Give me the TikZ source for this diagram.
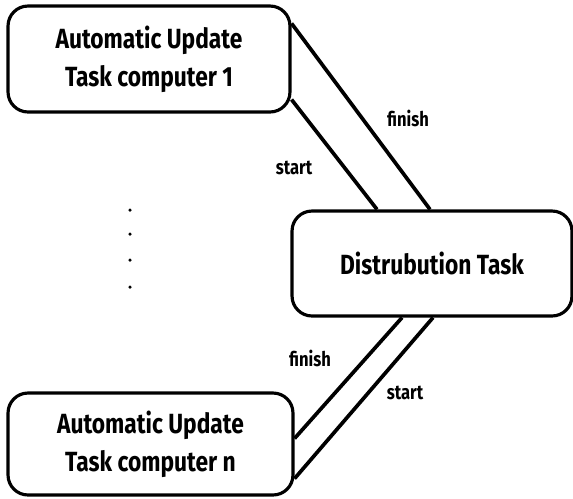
\documentclass[tikz,border=0pt]{standalone}
\usepackage{fontspec}
\setmainfont{Fira Sans}[FakeStretch=0.82]
\usetikzlibrary{calc}

\begin{document}
\begin{tikzpicture}[x=0.02cm,y=-0.02cm,
  task/.style={draw,line width=1.8pt,rounded corners=0.4cm,align=center,
    font=\bfseries\fontsize{15.8}{21.5}\selectfont,inner sep=0pt},
  link/.style={line width=2.1pt},
  lbl/.style={font=\bfseries\fontsize{11.5}{13}\selectfont,inner sep=0pt}]
\useasboundingbox (0,0) rectangle (573,498);
% tasks
\node[task,minimum width=5.64cm,minimum height=2.12cm] (auto1) at (149,59) {Automatic Update\\Task computer 1};
\node[task,minimum width=5.6cm,minimum height=2.1cm] (dist) at (432,263.5) {Distrubution Task};
\node[task,minimum width=5.7cm,minimum height=2.04cm] (auton) at (150.5,444) {Automatic Update\\Task computer n};
% connections
\draw[link] ([yshift=-0.38cm]auto1.north east) -- ([xshift=-0.04cm]dist.north);
\draw[link] ([yshift=0.28cm]auto1.south east) -- ([xshift=-1.1cm]dist.north);
\draw[link] ([xshift=-0.6cm]dist.south) -- ([yshift=-0.94cm]auton.north east);
\draw[link] ([xshift=0.02cm]dist.south) -- ([yshift=0.36cm]auton.south east);
\node[lbl] (fin1) at (408,118) {finish};
\node[lbl] (st1) at (294,168) {start};
\node[lbl] (finn) at (310,358) {finish};
\node[lbl] (stn) at (405,393) {start};
% dots
\foreach \y [count=\i] in {210,234,260,287}
  \fill (130,\y) circle (0.035cm) coordinate (dot\i);
\end{tikzpicture}
\end{document}
